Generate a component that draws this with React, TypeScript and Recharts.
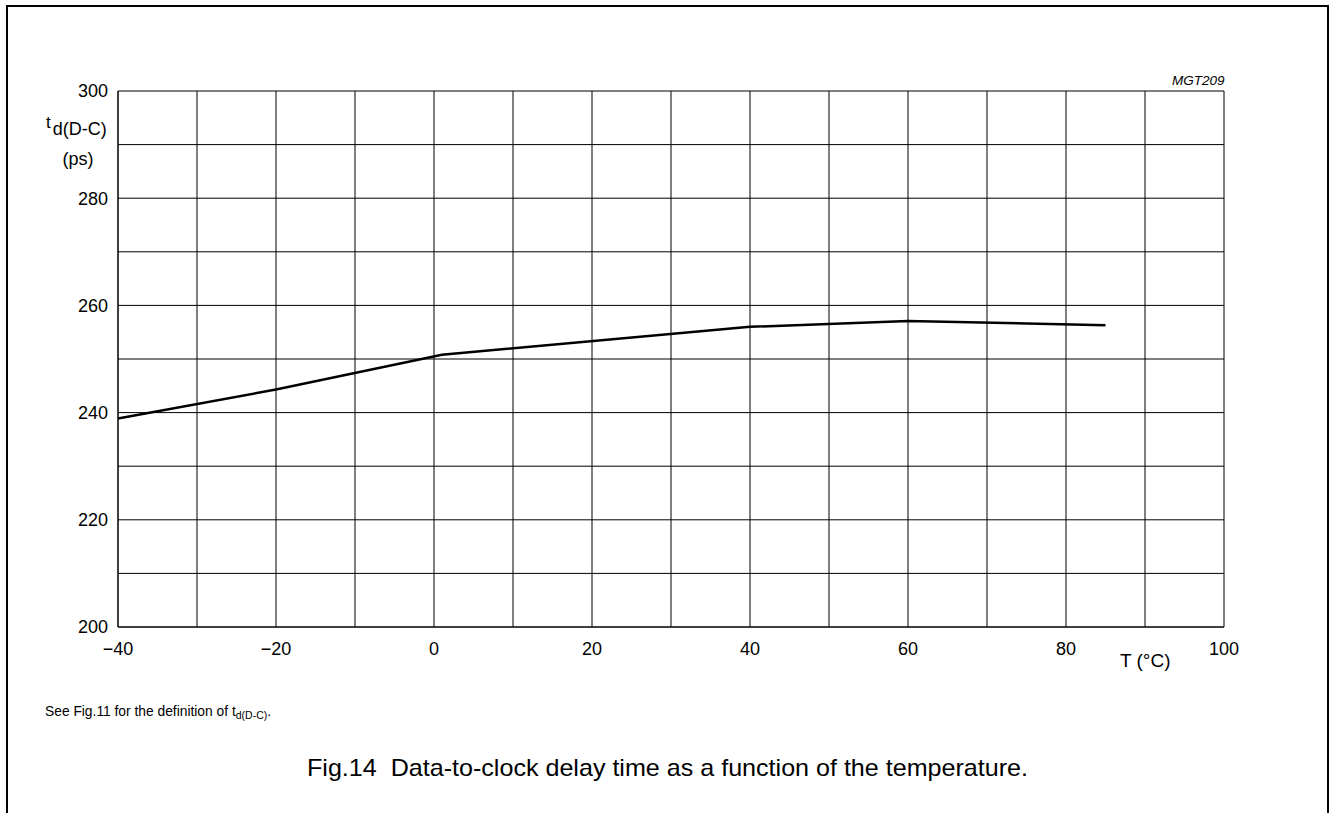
import { LineChart, Line, XAxis, YAxis, CartesianGrid } from "recharts";

const temperature = [-40, -20, 1, 40, 60, 85];
const delayPs = [238.9, 244.3, 250.8, 256.0, 257.1, 256.3];
const xTicks = [-40, -30, -20, -10, 0, 10, 20, 30, 40, 50, 60, 70, 80, 90, 100];
const yTicks = [200, 210, 220, 230, 240, 250, 260, 270, 280, 290, 300];

const data = temperature.map((t, i) => ({ t, delay: delayPs[i] }));

const font = "'Liberation Sans', Arial, Helvetica, sans-serif";

const fmtX = (v: number) => (v % 20 === 0 ? String(v).replace("-", "\u2212") : "");
const fmtY = (v: number) => (v % 20 === 0 ? String(v) : "");

export default function App() {
  return (
    <div
      style={{
        position: "fixed",
        left: 0,
        top: 0,
        width: 1329,
        height: 813,
        background: "#fff",
        fontFamily: font,
        overflow: "hidden",
      }}
    >
      <div
        style={{
          position: "absolute",
          left: 6,
          top: 5,
          width: 1319,
          height: 830,
          border: "2px solid #000",
        }}
      />
      <LineChart
        width={1329}
        height={813}
        data={data}
        margin={{ top: 91, right: 105, bottom: 156, left: 58 }}
      >
        <CartesianGrid stroke="#000" strokeWidth={1} horizontal vertical />
        <XAxis
          type="number"
          dataKey="t"
          domain={[-40, 100]}
          ticks={xTicks}
          tickFormatter={fmtX}
          tickSize={0}
          tickMargin={15}
          interval={0}
          axisLine={{ stroke: "#000" }}
          tick={{ fill: "#000", fontSize: 18, fontFamily: font }}
        />
        <YAxis
          type="number"
          width={60}
          domain={[200, 300]}
          ticks={yTicks}
          tickFormatter={fmtY}
          tickSize={0}
          tickMargin={10}
          interval={0}
          axisLine={{ stroke: "#000" }}
          tick={{ fill: "#000", fontSize: 18, fontFamily: font }}
        />
        <Line
          type="linear"
          dataKey="delay"
          stroke="#000"
          strokeWidth={2.5}
          dot={false}
          isAnimationActive={false}
        />
        <text x={1172} y={85} fontSize={13.5} fontStyle="italic" fontFamily={font} fill="#000">
          MGT209
        </text>
        <text x={46} y={128} fontSize={17} fontFamily={font} fill="#000">
          t
          <tspan fontSize={18} dx={2} dy={7}>d(D-C)</tspan>
        </text>
        <text x={78} y={165} fontSize={18} fontFamily={font} fill="#000" textAnchor="middle">
          (ps)
        </text>
        <text x={1120} y={667} fontSize={19} fontFamily={font} fill="#000">
          T (°C)
        </text>
        <text x={45} y={716} fontSize={13.8} fontFamily={font} fill="#000">
          See Fig.11 for the definition of t
          <tspan fontSize={10.5} dy={3}>d(D-C)</tspan>
          <tspan dy={-3}>.</tspan>
        </text>
        <text
          x={307}
          y={776}
          fontSize={24}
          fontFamily={font}
          fill="#000"
          xmlSpace="preserve"
          textLength={721}
          lengthAdjust="spacingAndGlyphs"
        >
          Fig.14  Data-to-clock delay time as a function of the temperature.
        </text>
      </LineChart>
    </div>
  );
}
